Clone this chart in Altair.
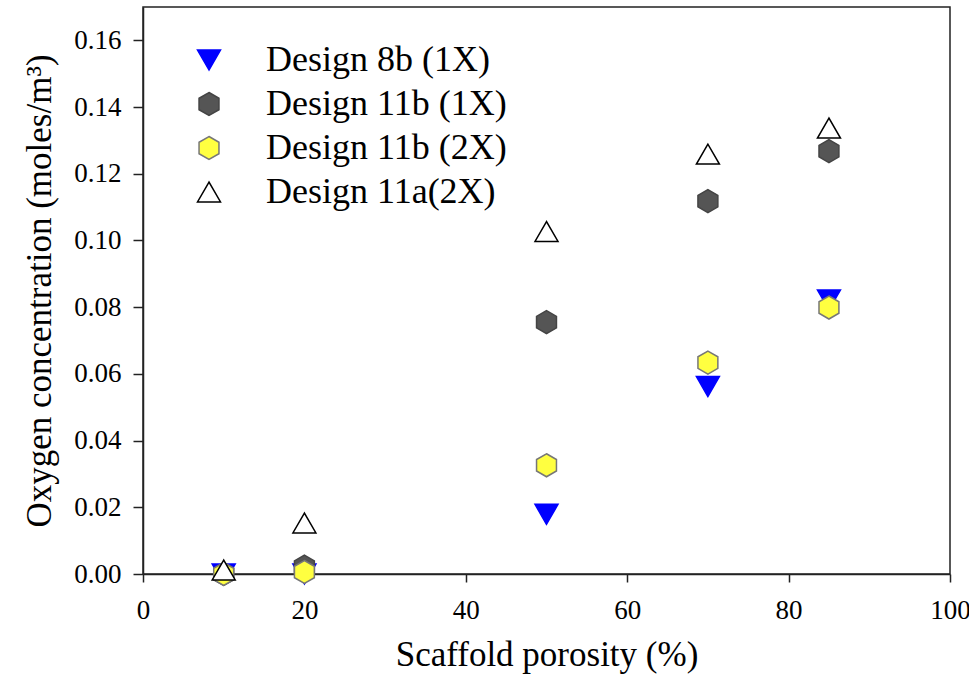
import altair as alt
import pandas as pd

porosity = [10, 20, 50, 70, 85]
series_names = ["Design 8b (1X)", "Design 11b (1X)", "Design 11b (2X)", "Design 11a(2X)"]
d8b_1x = [0.0, 0.0, 0.0179, 0.0562, 0.0822]
d11b_1x = [0.0, 0.0022, 0.0755, 0.1118, 0.1268]
d11b_2x = [0.0, 0.0006, 0.0326, 0.0634, 0.0799]
d11a_2x = [0.0012, 0.0153, 0.1027, 0.1259, 0.1337]

x_ticks = [0, 20, 40, 60, 80, 100]
y_ticks = [0.0, 0.02, 0.04, 0.06, 0.08, 0.10, 0.12, 0.14, 0.16]

rows = []
for name, vals in zip(series_names, [d8b_1x, d11b_1x, d11b_2x, d11a_2x]):
    for p, v in zip(porosity, vals):
        rows.append({"porosity": p, "oxygen": v, "series": name})
df = pd.DataFrame(rows)

hexagon = "M0,-1L0.866,-0.5L0.866,0.5L0,1L-0.866,0.5L-0.866,-0.5Z"
fills = ["#0000FF", "#555555", "#FFFF40", "#FFFFFF"]
strokes = ["#0000FF", "#444444", "#777777", "#000000"]
shapes = ["triangle-down", hexagon, hexagon, "triangle-up"]

leg = alt.Legend(title=None, orient="none", legendX=48, legendY=35,
                 labelFontSize=36, labelOffset=39, rowPadding=8,
                 symbolSize=529, symbolStrokeWidth=1.5, labelLimit=400,
                 symbolOpacity=1)

chart = alt.Chart(df).mark_point(filled=True, opacity=1, size=529, strokeWidth=1.5).encode(
    x=alt.X("porosity:Q", title="Scaffold porosity (%)",
            scale=alt.Scale(domain=[0, 100], nice=False),
            axis=alt.Axis(values=x_ticks, format="d", tickSize=8, labelPadding=15,
                          titlePadding=14, labelFlush=False, labelOverlap=False)),
    y=alt.Y("oxygen:Q", title="Oxygen concentration (moles/m³)",
            scale=alt.Scale(domain=[0, 0.17], nice=False),
            axis=alt.Axis(values=y_ticks, format=".2f", tickSize=10, labelPadding=12,
                          titlePadding=16, labelFlush=False)),
    fill=alt.Fill("series:N", scale=alt.Scale(domain=series_names, range=fills), legend=leg),
    stroke=alt.Stroke("series:N", scale=alt.Scale(domain=series_names, range=strokes), legend=leg),
    shape=alt.Shape("series:N", scale=alt.Scale(domain=series_names, range=shapes), legend=leg),
    order=alt.Order("idx:Q"),
).transform_calculate(
    idx="indexof(%s, datum.series)" % str(series_names)
).properties(
    width=807, height=567,
    autosize=alt.AutoSizeParams(type="none"),
    padding={"left": 143, "top": 7, "right": 19, "bottom": 103},
).configure(
    font="Liberation Serif",
).configure_axis(
    labelFontSize=27, titleFontSize=35, titleFontWeight="normal",
    labelColor="black", titleColor="black",
    domainColor="#222222", tickColor="#222222", domainWidth=1.5, tickWidth=1.5,
    grid=False, labelFont="Liberation Serif", titleFont="Liberation Serif",
).configure_legend(
    labelFont="Liberation Serif", labelColor="black",
).configure_view(
    stroke="#222222", strokeWidth=1.5,
)

chart.save("out.html", embed_options={"renderer": "svg", "actions": False})
